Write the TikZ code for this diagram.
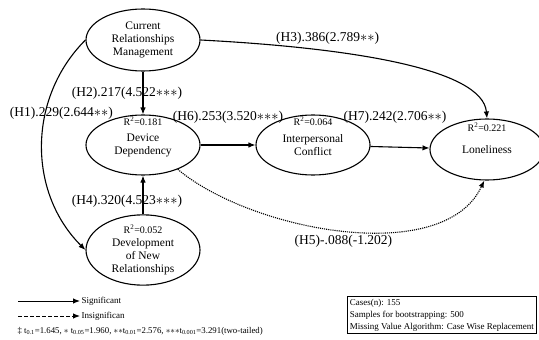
\documentclass[tikz,border=0pt]{standalone}
\usepackage{fontspec}
\setmainfont{Liberation Serif}
\usetikzlibrary{shapes.geometric, arrows.meta, positioning}
\newcommand{\hstar}{\ensuremath{\mathord{\ast}}}

\begin{document}
\begin{tikzpicture}[x=1pt, y=-1pt, line width=1.1pt, >={Latex[length=7pt,width=5.5pt]},
  var/.style={ellipse, draw, minimum width=114pt, minimum height=60pt, inner sep=0pt, align=center, font=\fontsize{11.5}{13}\selectfont},
  rsq/.style={inner sep=1pt, font=\fontsize{10}{11}\selectfont},
  hyp/.style={font=\fontsize{13.5}{15}\selectfont},
  small/.style={inner sep=1pt, font=\fontsize{9}{10}\selectfont}]
  \useasboundingbox (0,0) rectangle (539,340);

  % Variables
  \node[var, minimum height=62pt] (crm) at (143,40) {Current\\Relationships\\Management};
  \node[var] (dd) [below of=crm, node distance=105pt] {Device\\Dependency};
  \node[var] (ic) [right of=dd, node distance=170pt] {Interpersonal\\Conflict};
  \node[var, minimum height=61pt] (lon) [right of=ic, node distance=174pt, yshift=-4.5pt] {Loneliness};
  \node[var, minimum height=64pt] (dnr) [below of=dd, node distance=105pt] {{\fontsize{10}{11}\selectfont R\textsuperscript{2}=0.052}\\Development\\of New\\Relationships};

  \node[rsq] (rdd) [below=1pt of dd.north] {R\textsuperscript{2}=0.181};
  \node[rsq] (ric) [below=1pt of ic.north] {R\textsuperscript{2}=0.064};
  \node[rsq] (rlon) [below=3pt of lon.north] {R\textsuperscript{2}=0.221};

  % Caminos
  \draw[->] (crm) -- node[hyp, xshift=-16pt] {(H2).217(4.522\hstar\hstar\hstar)} (dd);
  \draw[->] (crm.west) to[bend right=45] node[hyp, pos=0.36, xshift=16pt] {(H1).229(2.644\hstar\hstar)} (dnr.west);
  \draw[->] (crm.east) to[out=-3, in=95, out distance=150pt, in distance=50pt] node[hyp, pos=0.3, yshift=13pt] {(H3).386(2.789\hstar\hstar)} (lon.north);
  \draw[->] (dnr) -- node[hyp, pos=0.33, xshift=-16pt] {(H4).320(4.523\hstar\hstar\hstar)} (dd);
  \draw[->] (dd) -- node[hyp, xshift=0pt, yshift=28pt] {(H6).253(3.520\hstar\hstar\hstar)} (ic);
  \draw[->] (ic) -- node[hyp, xshift=-5pt, yshift=30pt] {(H7).242(2.706\hstar\hstar)} (lon);
  \draw[->, densely dotted] (dd.-35) to[out=-40, in=-115, looseness=0.8] node[hyp, below=1pt] {(H5)-.088(-1.202)} (lon.265);

  % Leyenda
  \coordinate (s1) at (18,301);
  \node[small, anchor=west] (sig) at (80,301) {Significant};
  \draw[->, line width=1pt] (s1) -- (sig.west);
  \coordinate (s2) at (18,316);
  \node[small, anchor=west] (insig) at (80,316) {Insignifican};
  \draw[->, line width=1pt, dash pattern=on 4pt off 2pt] (s2) -- (insig.west);
  \node[small, anchor=west, font=\fontsize{8.8}{10}\selectfont] (note) at (16,331) {‡ t\textsubscript{0.1}=1.645, \hstar\ t\textsubscript{0.05}=1.960, \hstar\hstar t\textsubscript{0.01}=2.576, \hstar\hstar\hstar t\textsubscript{0.001}=3.291(two-tailed)};

  \node[draw, line width=0.6pt, anchor=north west, align=left, inner sep=2.5pt, font=\fontsize{9}{12}\selectfont] (info) at (347,296) {Cases(n): 155\\Samples for bootstrapping: 500\\Missing Value Algorithm: Case Wise Replacement};
\end{tikzpicture}
\end{document}
